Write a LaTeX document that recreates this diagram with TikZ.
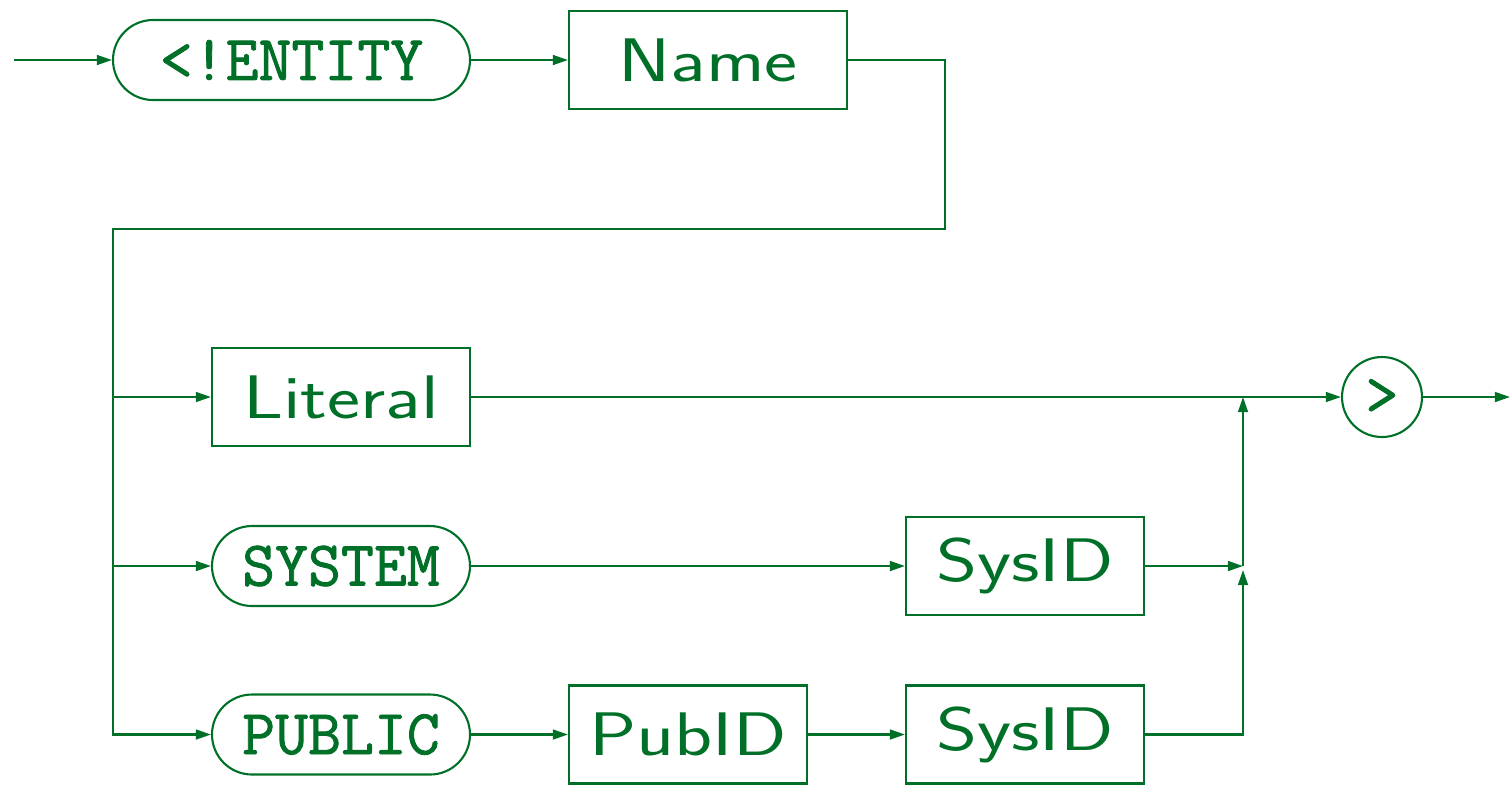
\documentclass[tikz,border=0pt]{standalone}
\usepackage{fontspec}
\newfontfamily\railsf[FakeStretch=1.28]{Latin Modern Sans}
\newfontfamily\railtt[FakeBold=1.3]{Latin Modern Mono}
\usetikzlibrary{arrows.meta}
\definecolor{railgreen}{RGB}{0,112,40}
\tikzset{
	rail/.style={railgreen, line width=0.6pt, -{Triangle[length=4.3pt,width=2.8pt]}},
	terminal/.style={draw, railgreen, line width=0.6pt, rectangle, rounded corners=0.4cm,
		minimum height=0.8cm, inner sep=0pt, font=\railtt\fontsize{18.2}{21}\selectfont},
	nonterminal/.style={draw, railgreen, line width=0.6pt, rectangle,
		minimum height=0.98cm, inner sep=0pt, font=\railsf\fontsize{17.5}{21}\selectfont}
}
\begin{document}
\begin{tikzpicture}
		\useasboundingbox (0, 0) rectangle (15.1, -7.87);

		% first row
		\node[terminal, minimum width=3.57cm]		(entity)	at (2.915, -0.60)	{<!ENTITY};
		\node[nonterminal, minimum width=2.78cm]	(name)		at (7.08, -0.60)	{Name};

		% alternatives
		\node[nonterminal, minimum width=2.58cm]	(literal)	at (3.41, -3.97)	{Literal};
		\node[terminal, minimum width=2.58cm]		(system)	at (3.41, -5.66)	{SYSTEM};
		\node[nonterminal, minimum width=2.38cm]	(sysidA)	at (10.25, -5.66)	{SysID};
		\node[terminal, minimum width=2.58cm]		(public)	at (3.41, -7.345)	{PUBLIC};
		\node[nonterminal, minimum width=2.38cm]	(pubid)		at (6.88, -7.345)	{PubID};
		\node[nonterminal, minimum width=2.38cm]	(sysidB)	at (10.25, -7.345)	{SysID};

		\node[terminal, circle, minimum size=0.8cm]	(close)		at (13.82, -3.97)	{>};

		\coordinate (start)	at (0.14, -0.60);
		\coordinate (exit)	at (15.1, -3.97);
		\coordinate (turnR)	at (9.45, -2.29);
		\coordinate (turnL)	at (1.13, -2.29);
		\coordinate (joinL)	at (12.43, -3.97);
		\coordinate (joinA)	at (12.43, -5.66);

		\draw[rail]	(start) to (entity);
		\draw[rail]	(entity) to (name);
		\draw[rail]	(name) -| (turnR) -- (turnL) |- (public);
		\draw[rail]	(turnL |- literal) to (literal);
		\draw[rail]	(turnL |- system) to (system);

		\draw[rail]	(literal) to (close);
		\draw[rail]	(close) to (exit);
		\draw[rail]	(system) to (sysidA);
		\draw[rail]	(public) to (pubid);
		\draw[rail]	(pubid) to (sysidB);

		\draw[rail]	(sysidA) to (joinA);
		\draw[rail]	(sysidB) -| ([yshift=-0.04cm]joinA);
		\draw[rail]	(joinA) to (joinL);
	\end{tikzpicture}
\end{document}
